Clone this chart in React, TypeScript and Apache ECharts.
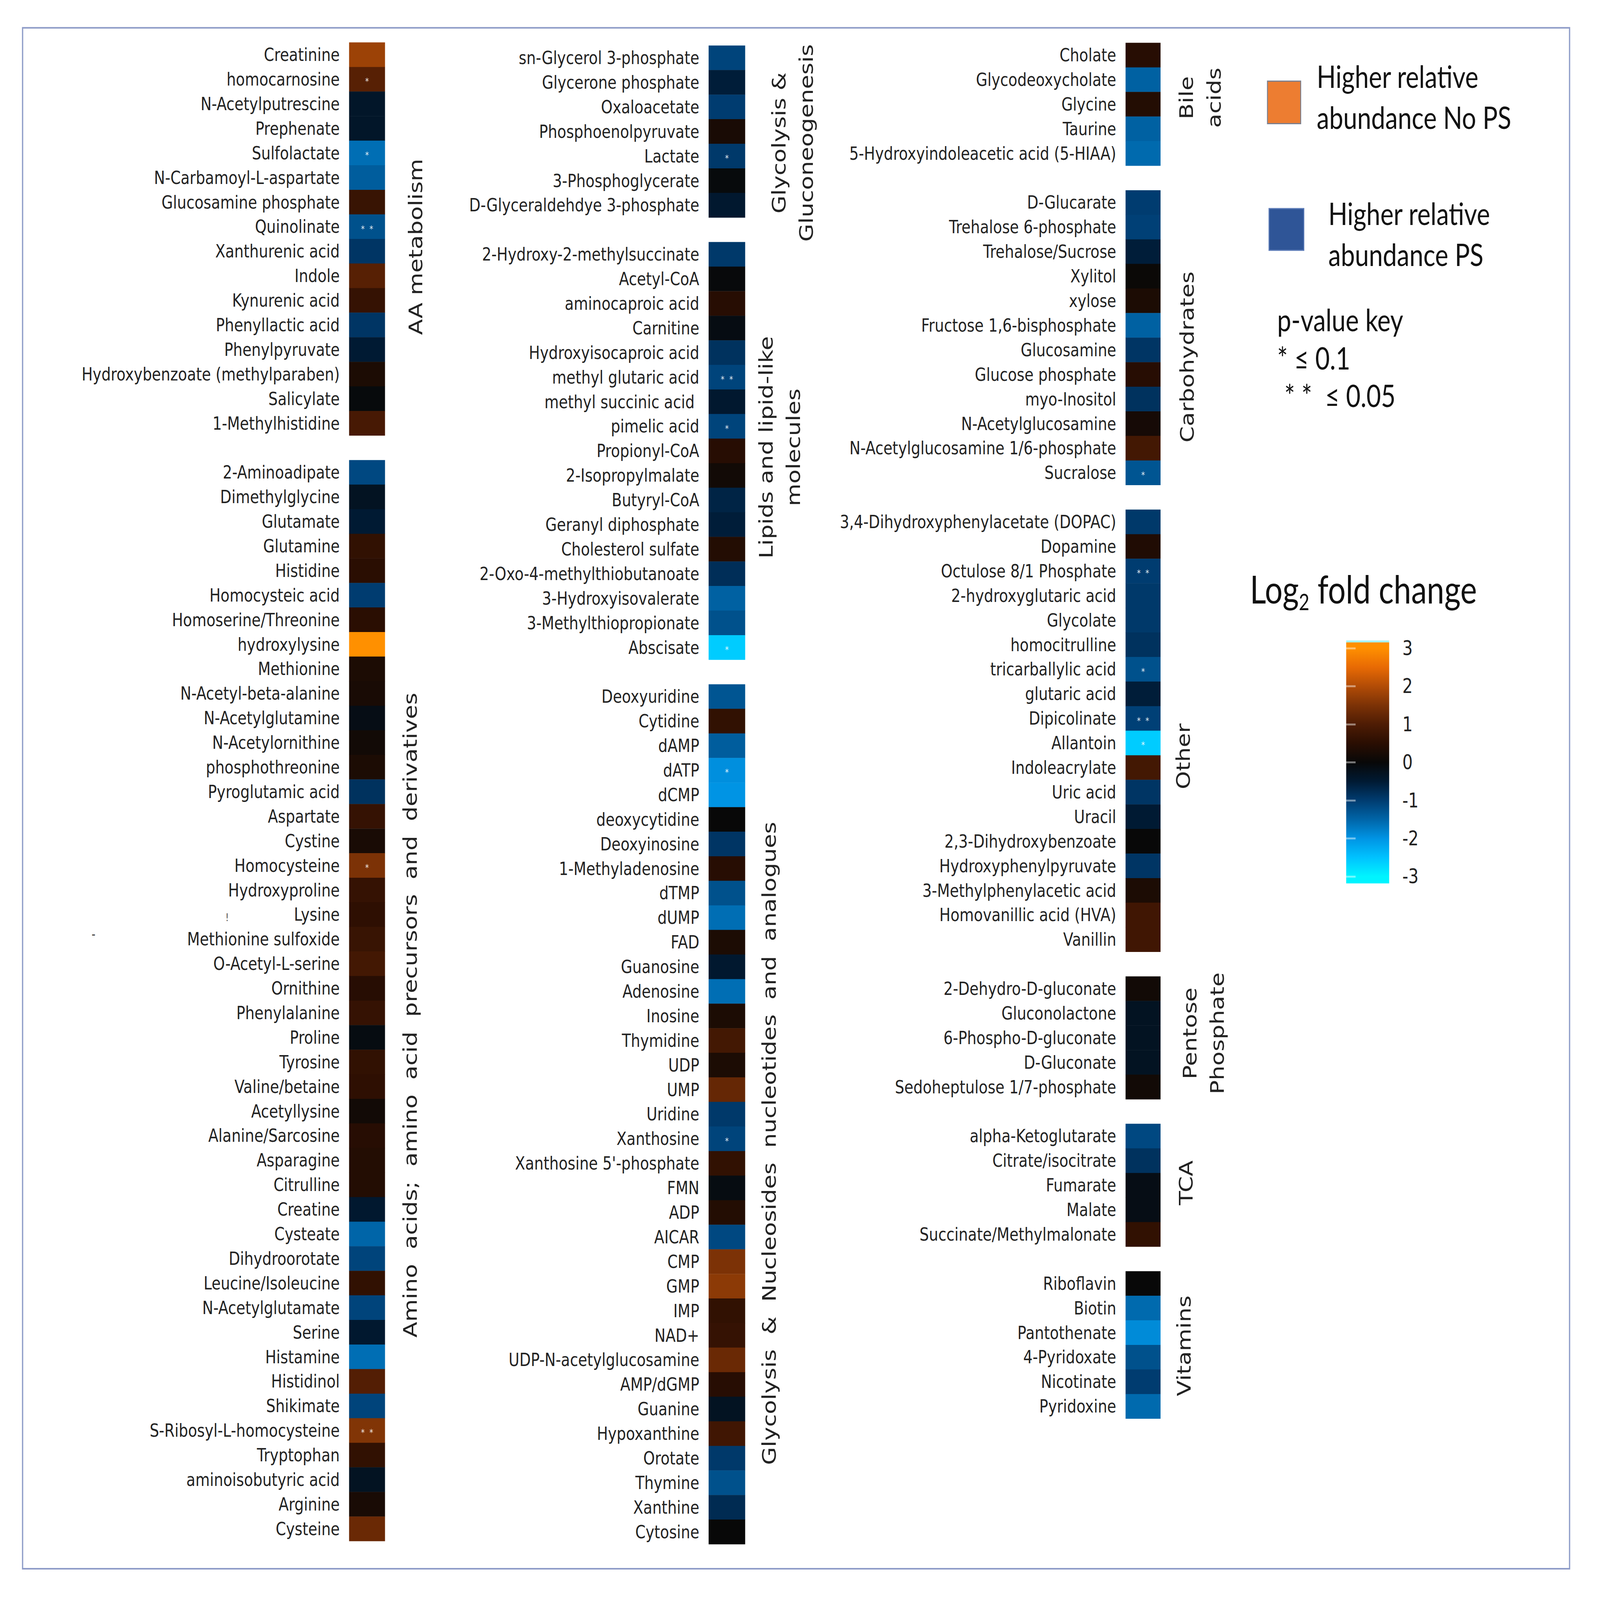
import React, { useEffect, useRef } from "react";
import * as echarts from "echarts";

// ---------------- DATA ----------------
const aaMetabolismNames = ["Creatinine", "homocarnosine", "N-Acetylputrescine", "Prephenate", "Sulfolactate", "N-Carbamoyl-L-aspartate", "Glucosamine phosphate", "Quinolinate", "Xanthurenic acid", "Indole", "Kynurenic acid", "Phenyllactic acid", "Phenylpyruvate", "Hydroxybenzoate (methylparaben)", "Salicylate", "1-Methylhistidine"];
const aaMetabolismValues = [1.8, 1.1, -0.38, -0.38, -1.6, -1.4, 0.7, -1.25, -0.9, 1.1, 0.65, -0.9, -0.5, 0.3, -0.05, 0.9];
const aaMetabolismSig = [0, 1, 0, 0, 1, 0, 0, 2, 0, 0, 0, 0, 0, 0, 0, 0];

const aminoAcidNames = ["2-Aminoadipate", "Dimethylglycine", "Glutamate", "Glutamine", "Histidine", "Homocysteic acid", "Homoserine/Threonine", "hydroxylysine", "Methionine", "N-Acetyl-beta-alanine", "N-Acetylglutamine", "N-Acetylornithine", "phosphothreonine", "Pyroglutamic acid", "Aspartate", "Cystine", "Homocysteine", "Hydroxyproline", "Lysine", "Methionine sulfoxide", "O-Acetyl-L-serine", "Ornithine", "Phenylalanine", "Proline", "Tyrosine", "Valine/betaine", "Acetyllysine", "Alanine/Sarcosine", "Asparagine", "Citrulline", "Creatine", "Cysteate", "Dihydroorotate", "Leucine/Isoleucine", "N-Acetylglutamate", "Serine", "Histamine", "Histidinol", "Shikimate", "S-Ribosyl-L-homocysteine", "Tryptophan", "aminoisobutyric acid", "Arginine", "Cysteine"];
const aminoAcidValues = [-1.15, -0.3, -0.5, 0.6, 0.5, -1.0, 0.5, 3.0, 0.3, 0.25, -0.15, 0.15, 0.3, -0.85, 0.65, 0.25, 1.5, 0.65, 0.55, 0.7, 0.85, 0.45, 0.65, -0.1, 0.6, 0.55, 0.15, 0.45, 0.4, 0.4, -0.45, -1.5, -1.1, 0.6, -1.1, -0.45, -1.6, 1.05, -1.1, 1.55, 0.6, -0.3, 0.25, 1.3];
const aminoAcidSig = [0, 0, 0, 0, 0, 0, 0, 0, 0, 0, 0, 0, 0, 0, 0, 0, 1, 0, 0, 0, 0, 0, 0, 0, 0, 0, 0, 0, 0, 0, 0, 0, 0, 0, 0, 0, 0, 0, 0, 2, 0, 0, 0, 0];

const glycolysisNames = ["sn-Glycerol 3-phosphate", "Glycerone phosphate", "Oxaloacetate", "Phosphoenolpyruvate", "Lactate", "3-Phosphoglycerate", "D-Glyceraldehdye 3-phosphate"];
const glycolysisValues = [-1.1, -0.55, -1.0, 0.25, -0.95, -0.05, -0.45];
const glycolysisSig = [0, 0, 0, 0, 1, 0, 0];

const lipidNames = ["2-Hydroxy-2-methylsuccinate", "Acetyl-CoA", "aminocaproic acid", "Carnitine", "Hydroxyisocaproic acid", "methyl glutaric acid", "methyl succinic acid\u00a0", "pimelic acid", "Propionyl-CoA", "2-Isopropylmalate", "Butyryl-CoA", "Geranyl diphosphate", "Cholesterol sulfate", "2-Oxo-4-methylthiobutanoate", "3-Hydroxyisovalerate", "3-Methylthiopropionate", "Abscisate"];
const lipidValues = [-0.95, -0.03, 0.45, -0.12, -0.85, -1.1, -0.45, -1.1, 0.45, 0.15, -0.65, -0.55, 0.4, -0.8, -1.45, -1.25, -2.6];
const lipidSig = [0, 0, 0, 0, 0, 2, 0, 1, 0, 0, 0, 0, 0, 0, 0, 0, 1];

const nucleotideNames = ["Deoxyuridine", "Cytidine", "dAMP", "dATP", "dCMP", "deoxycytidine", "Deoxyinosine", "1-Methyladenosine", "dTMP", "dUMP", "FAD", "Guanosine", "Adenosine", "Inosine", "Thymidine", "UDP", "UMP", "Uridine", "Xanthosine", "Xanthosine 5'-phosphate", "FMN", "ADP", "AICAR", "CMP", "GMP", "IMP", "NAD+", "UDP-N-acetylglucosamine", "AMP/dGMP", "Guanine", "Hypoxanthine", "Orotate", "Thymine", "Xanthine", "Cytosine"];
const nucleotideValues = [-1.3, 0.6, -1.4, -1.95, -2.0, 0.0, -0.9, 0.45, -1.25, -1.6, 0.3, -0.45, -1.6, 0.3, 0.85, 0.3, 1.25, -0.95, -1.1, 0.6, -0.1, 0.4, -1.15, 1.5, 1.65, 0.6, 0.65, 1.3, 0.45, -0.3, 0.8, -0.95, -1.25, -0.75, 0.0];
const nucleotideSig = [0, 0, 0, 1, 0, 0, 0, 0, 0, 0, 0, 0, 0, 0, 0, 0, 0, 0, 1, 0, 0, 0, 0, 0, 0, 0, 0, 0, 0, 0, 0, 0, 0, 0, 0];

const bileAcidNames = ["Cholate", "Glycodeoxycholate", "Glycine", "Taurine", "5-Hydroxyindoleacetic acid (5-HIAA)"];
const bileAcidValues = [0.45, -1.45, 0.4, -1.45, -1.55];
const bileAcidSig = [0, 0, 0, 0, 0];

const carbohydrateNames = ["D-Glucarate", "Trehalose 6-phosphate", "Trehalose/Sucrose", "Xylitol", "xylose", "Fructose 1,6-bisphosphate", "Glucosamine", "Glucose phosphate", "myo-Inositol", "N-Acetylglucosamine", "N-Acetylglucosamine 1/6-phosphate", "Sucralose"];
const carbohydrateValues = [-1.0, -1.05, -0.55, 0.05, 0.3, -1.45, -0.9, 0.45, -0.85, 0.2, 0.85, -1.3];
const carbohydrateSig = [0, 0, 0, 0, 0, 0, 0, 0, 0, 0, 0, 1];

const otherNames = ["3,4-Dihydroxyphenylacetate (DOPAC)", "Dopamine", "Octulose 8/1 Phosphate", "2-hydroxyglutaric acid", "Glycolate", "homocitrulline", "tricarballylic acid", "glutaric acid", "Dipicolinate", "Allantoin", "Indoleacrylate", "Uric acid", "Uracil", "2,3-Dihydroxybenzoate", "Hydroxyphenylpyruvate", "3-Methylphenylacetic acid", "Homovanillic acid (HVA)", "Vanillin"];
const otherValues = [-0.95, 0.35, -1.0, -0.95, -0.95, -0.85, -1.25, -0.55, -1.05, -2.6, 0.85, -0.9, -0.5, 0.0, -0.9, 0.3, 0.8, 0.8];
const otherSig = [0, 0, 2, 0, 0, 0, 1, 0, 2, 1, 0, 0, 0, 0, 0, 0, 0, 0];

const pentoseNames = ["2-Dehydro-D-gluconate", "Gluconolactone", "6-Phospho-D-gluconate", "D-Gluconate", "Sedoheptulose 1/7-phosphate"];
const pentoseValues = [0.15, -0.3, -0.3, -0.3, 0.15];
const pentoseSig = [0, 0, 0, 0, 0];

const tcaNames = ["alpha-Ketoglutarate", "Citrate/isocitrate", "Fumarate", "Malate", "Succinate/Methylmalonate"];
const tcaValues = [-1.15, -0.85, -0.15, -0.15, 0.6];
const tcaSig = [0, 0, 0, 0, 0];

const vitaminNames = ["Riboflavin", "Biotin", "Pantothenate", "4-Pyridoxate", "Nicotinate", "Pyridoxine"];
const vitaminValues = [0.0, -1.55, -1.9, -1.25, -1.0, -1.55];
const vitaminSig = [0, 0, 0, 0, 0, 0];

const colorbarTicks = [-3, -2, -1, 0, 1, 2, 3];
const sigMarks = ["", "*", "*\u00a0\u00a0*"];

// colormap stops from -3 to 3 (step 0.5)
const colorStops = ["#00f4ff", "#00c2ff", "#0094e4", "#0065a8", "#003c70", "#001a33", "#080808", "#2a0e02", "#4e1c04", "#7c3206", "#b24c06", "#e86a04", "#ff9000"];

// ---------------- LAYOUT (design space 5100 x 4142) ----------------
const DESIGN_W = 5100;
const DESIGN_H = 4142;
const FONT = '"DejaVu Sans", Verdana, sans-serif';
const LEGEND_FONT = 'Lato, "Open Sans", sans-serif';
const ROW_H = 63.6;
const TEXT = "#222222";

type Group = { names: string[]; values: number[]; sig: number[] };
const g = (names: string[], values: number[], sig: number[]): Group => ({ names, values, sig });

const columns = [
  { left: 1113, top: 110, width: 114, groups: [g(aaMetabolismNames, aaMetabolismValues, aaMetabolismSig), g(aminoAcidNames, aminoAcidValues, aminoAcidSig)] },
  { left: 2259, top: 118, width: 116, groups: [g(glycolysisNames, glycolysisValues, glycolysisSig), g(lipidNames, lipidValues, lipidSig), g(nucleotideNames, nucleotideValues, nucleotideSig)] },
  { left: 3588, top: 111, width: 111, groups: [g(bileAcidNames, bileAcidValues, bileAcidSig), g(carbohydrateNames, carbohydrateValues, carbohydrateSig), g(otherNames, otherValues, otherSig), g(pentoseNames, pentoseValues, pentoseSig), g(tcaNames, tcaValues, tcaSig), g(vitaminNames, vitaminValues, vitaminSig)] },
];

function buildColumn(groups: Group[]) {
  const labels: string[] = [];
  const data: any[] = [];
  groups.forEach((grp, gi) => {
    if (gi > 0) labels.push("");
    grp.names.forEach((n, i) => {
      const row = labels.length;
      labels.push(n);
      data.push({ value: [0, row, grp.values[i]], sig: grp.sig[i] });
    });
  });
  return { labels, data };
}

const groupLabels = [
  { text: "AA metabolism", x: 1325, y: 639 },
  { text: "Amino\u00a0 acids;\u00a0 amino\u00a0 acid\u00a0 precursors\u00a0 and\u00a0 derivatives", x: 1308, y: 2628 },
  { text: "Glycolysis &\nGluconeogenesis", x: 2527, y: 370 },
  { text: "Lipids and lipid-like\nmolecules", x: 2486, y: 1158 },
  { text: "Glycolysis\u00a0 &\u00a0 Nucleosides\u00a0 nucleotides\u00a0 and\u00a0 analogues", x: 2452, y: 2960 },
  { text: "Bile\nacids", x: 3826, y: 253 },
  { text: "Carbohydrates", x: 3785, y: 924 },
  { text: "Other", x: 3772, y: 1958 },
  { text: "Pentose\nPhosphate", x: 3837, y: 2675 },
  { text: "TCA", x: 3781, y: 3062 },
  { text: "Vitamins", x: 3774, y: 3484 },
];

// colorbar geometry
const CB = { left: 4291, width: 137, barTop: 1658, barH: 629, axisTop: 1678, axisH: 591 };

function buildOption() {
  const grids: any[] = [];
  const xAxes: any[] = [];
  const yAxes: any[] = [];
  const series: any[] = [];

  columns.forEach((col, i) => {
    const { labels, data } = buildColumn(col.groups);
    grids.push({ left: col.left, top: col.top, width: col.width, height: labels.length * ROW_H, containLabel: false });
    xAxes.push({ gridIndex: i, type: "category", data: ["log2FC"], show: false });
    yAxes.push({
      gridIndex: i,
      type: "category",
      data: labels,
      inverse: true,
      axisLine: { show: false },
      axisTick: { show: false },
      splitLine: { show: false },
      axisLabel: { interval: 0, margin: 30, fontSize: 47, fontFamily: FONT, color: TEXT },
    });
    series.push({
      type: "heatmap",
      xAxisIndex: i,
      yAxisIndex: i,
      data,
      itemStyle: { borderWidth: 0 },
      emphasis: { disabled: true },
      label: {
        show: true,
        formatter: (p: any) => sigMarks[p.data.sig] || "",
        color: "rgba(255,255,255,0.9)",
        fontSize: 24,
        fontFamily: FONT,
        offset: [0, 5],
      },
    });
  });

  // colorbar axes grid
  grids.push({ left: CB.left, top: CB.axisTop, width: CB.width, height: CB.axisH, containLabel: false });
  xAxes.push({ gridIndex: 3, type: "value", min: 0, max: 1, show: false });
  const tickStyle = { show: true, inside: true, length: 30, lineStyle: { color: "rgba(255,255,255,0.45)", width: 5 } };
  yAxes.push({
    gridIndex: 3, type: "value", min: -3, max: 3, interval: 1, position: "right", z: 10,
    axisLine: { show: false }, splitLine: { show: false }, axisTick: tickStyle,
    axisLabel: { margin: 42, fontSize: 52, fontFamily: FONT, color: TEXT, customValues: colorbarTicks },
  });
  yAxes.push({
    gridIndex: 3, type: "value", min: -3, max: 3, interval: 1, position: "left", z: 10,
    axisLine: { show: false }, splitLine: { show: false }, axisTick: tickStyle, axisLabel: { show: false },
  });

  // gradient stops for the colorbar (top = +3)
  const unit = CB.axisH / 6;
  const off = CB.axisTop - CB.barTop;
  const stops: any[] = [
    { offset: 0, color: "#a6f4ff" },
    { offset: 0.007, color: "#a6f4ff" },
    { offset: 0.009, color: colorStops[colorStops.length - 1] },
  ];
  for (let k = colorStops.length - 1; k >= 0; k--) {
    const v = -3 + k * 0.5;
    stops.push({ offset: (off + (3 - v) * unit) / CB.barH, color: colorStops[k] });
  }
  stops.push({ offset: 1, color: colorStops[0] });

  const legendText = (x: number, y: number, text: string) => ({
    type: "text", x, y,
    style: { text, fontSize: 80, fontFamily: LEGEND_FONT, fill: "#111", align: "left", verticalAlign: "middle" },
  });

  const graphics: any[] = [
    { type: "rect", shape: { x: 72, y: 72, width: 4931, height: 3989 }, style: { fill: "none", stroke: "#8e9cc8", lineWidth: 4 }, silent: true },
    { type: "rect", z: 0, shape: { x: CB.left, y: CB.barTop, width: CB.width, height: CB.barH }, style: { fill: new echarts.graphic.LinearGradient(0, 0, 0, 1, stops) }, silent: true },
    // legend squares
    { type: "rect", shape: { x: 4040, y: 210, width: 106, height: 110 }, style: { fill: "#ED7D31", stroke: "#7a7f8f", lineWidth: 3 } },
    { type: "rect", shape: { x: 4045, y: 540, width: 111, height: 108 }, style: { fill: "#2F5597", stroke: "#5d7cb8", lineWidth: 3 } },
    legendText(4197, 196, "Higher relative"),
    legendText(4197, 303, "abundance No PS"),
    legendText(4234, 551, "Higher relative"),
    legendText(4234, 658, "abundance PS"),
    legendText(4071, 826, "p-value key"),
    legendText(4071, 926, "* \u2264 0.1"),
    legendText(4094, 1023, "* *\u00a0\u00a0\u2264 0.05"),
    {
      type: "text", x: 3984, y: 1524,
      style: {
        text: "{a|Log}{b|2}{a| fold change}",
        fontFamily: LEGEND_FONT, fill: "#111", align: "left", verticalAlign: "middle",
        rich: {
          a: { fontSize: 100, lineHeight: 124, fontFamily: LEGEND_FONT, verticalAlign: "middle" },
          b: { fontSize: 58, lineHeight: 124, fontFamily: LEGEND_FONT, verticalAlign: "bottom" },
        },
      },
    },
    // small stray marks present in the figure
    { type: "text", x: 724, y: 2376, style: { text: "!", fontSize: 26, fontFamily: FONT, fill: "#444", align: "center", verticalAlign: "middle" } },
    { type: "text", x: 298, y: 2418, style: { text: "-", fontSize: 34, fontFamily: FONT, fill: "#333", align: "center", verticalAlign: "middle" } },
  ];

  groupLabels.forEach((gl) => {
    graphics.push({
      type: "text", x: gl.x, y: gl.y, rotation: Math.PI / 2,
      style: { text: gl.text, fontSize: 60, lineHeight: 88, fontFamily: FONT, fill: TEXT, align: "center", verticalAlign: "middle" },
    });
  });

  return {
    animation: false,
    backgroundColor: "#ffffff",
    grid: grids,
    xAxis: xAxes,
    yAxis: yAxes,
    visualMap: {
      type: "continuous",
      show: false,
      min: -3,
      max: 3,
      dimension: 2,
      seriesIndex: [0, 1, 2],
      inRange: { color: colorStops },
    },
    series,
    graphic: graphics,
  };
}

export default function App() {
  const ref = useRef<HTMLDivElement>(null);
  const vw = typeof window !== "undefined" && window.innerWidth ? window.innerWidth : DESIGN_W;
  const vh = typeof window !== "undefined" && window.innerHeight ? window.innerHeight : DESIGN_H;
  // fit the 5100x4142 design to the actual browser viewport
  const sx = vw / DESIGN_W;
  const sy = vh / DESIGN_H;
  useEffect(() => {
    if (!ref.current) return;
    const chart = echarts.init(ref.current, null, { renderer: "svg", width: DESIGN_W, height: DESIGN_H });
    chart.setOption(buildOption() as any);
    return () => chart.dispose();
  }, []);
  return (
    <div style={{ position: "fixed", left: 0, top: 0, width: DESIGN_W * sx, height: DESIGN_H * sy, overflow: "hidden", background: "#fff" }}>
      <div
        ref={ref}
        style={{ width: DESIGN_W, height: DESIGN_H, transform: `scale(${sx}, ${sy})`, transformOrigin: "0 0", background: "#fff" }}
      />
    </div>
  );
}
